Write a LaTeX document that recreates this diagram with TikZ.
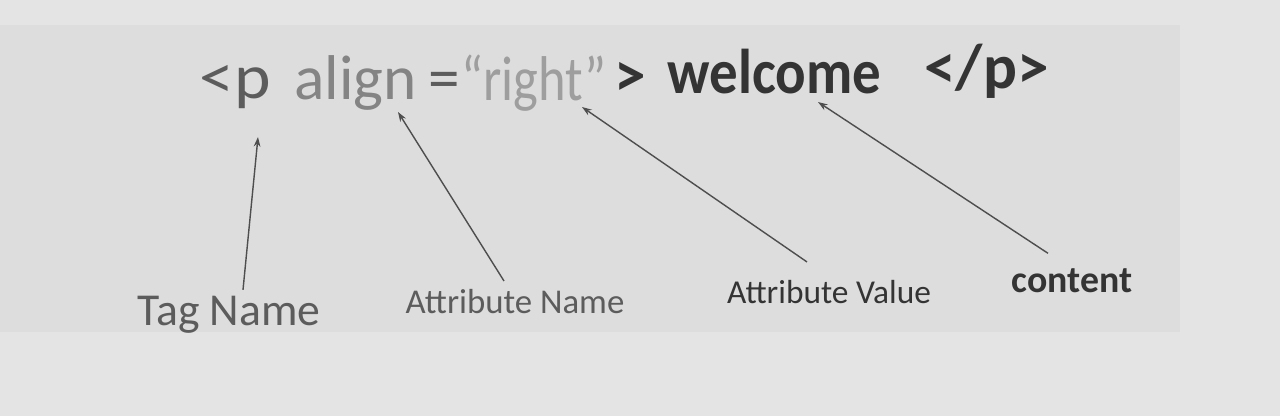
\documentclass[tikz,border=0pt]{standalone}
\usepackage{fontspec}
\setmainfont{Carlito}
\usepackage{graphicx}
\usetikzlibrary{arrows.meta}

\definecolor{pagegray}{RGB}{228,228,228}
\definecolor{boxgray}{RGB}{221,221,221}
\definecolor{inkdark}{RGB}{52,52,52}
\definecolor{inkmid}{RGB}{92,92,92}
\definecolor{inklight}{RGB}{132,132,132}
\definecolor{inkfaint}{RGB}{158,158,158}

\begin{document}
\begin{tikzpicture}[x=0.02cm,y=-0.02cm,
  code/.style={anchor=base west,inner sep=0pt,font=\fontsize{36}{40}\selectfont},
  codebold/.style={code,font=\fontsize{36}{40}\selectfont\bfseries,text=inkdark},
  caption/.style={anchor=base,inner sep=2pt,text=inkmid},
  pointer/.style={draw=inkmid!85!black,line width=0.8pt,-{Stealth[length=5.5pt,width=3.8pt]}}]
  \useasboundingbox (0,0) rectangle (1280,416);
  \fill[pagegray] (0,0) rectangle (1280,416);
  \fill[boxgray] (0,25) rectangle (1180,332);
  \path
  node[code,text=inkmid] (tag) at (199,98) {\scalebox{1.1}[1]{<p}}
  node[code,text=inklight] (attr) at (294,99) {align}
  node[code,text=inkmid] (eq) at (428,99) {=}
  node[code,text=inkfaint] (val) at (461,100) {\scalebox{0.83}[1]{“right”}}
  node[codebold] (gt) at (614,96) {>}
  node[codebold] (welcome) at (667,93) {\scalebox{0.9}[1]{welcome}}
  node[codebold] (close) at (924,88) {</p>}

  node[caption,font=\fontsize{26}{30}\selectfont] (tagname) at (229,325) {Tag Name}
  node[caption,font=\fontsize{19.8}{24}\selectfont] (attrname) at (515,313) {Attribute Name}
  node[caption,font=\fontsize{19}{23}\selectfont,text=inkdark] (attrvalue) at (829,303) {Attribute Value}
  node[caption,font=\fontsize{21.5}{25}\selectfont\bfseries,text=inkdark] (content) at (1072,292) {content}

  coordinate (tagtip) at (258,137)
  coordinate (attrtip) at (398,112)
  coordinate (valtip) at (582,107)
  coordinate (contip) at (818,102)
  ;
  \path
  ([shift={(14,-2)}]tagname.north) edge[pointer] (tagtip)
  ([shift={(-11,-4)}]attrname.north) edge[pointer] (attrtip)
  ([shift={(-22,-14)}]attrvalue.north) edge[pointer] (valtip)
  ([shift={(-24,-11)}]content.north) edge[pointer] (contip)
  ;
\end{tikzpicture}
\end{document}
